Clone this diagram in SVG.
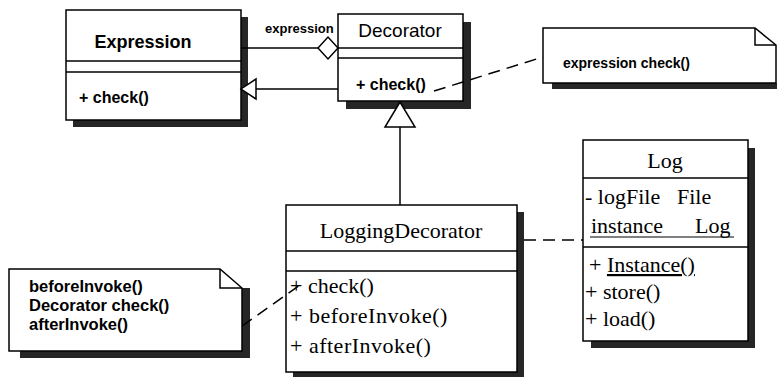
<svg xmlns="http://www.w3.org/2000/svg" width="777" height="377" viewBox="0 0 777 377">
<style>
.box{fill:#fff;stroke:#000;stroke-width:1.5}
.sh{fill:#262626}
.ln{stroke:#000;stroke-width:1.5;fill:none}
.dash{stroke:#000;stroke-width:1.5;fill:none;stroke-dasharray:12 7}
.sans{font-family:"Liberation Sans",Arial,sans-serif;fill:#000}
.serif{font-family:"Liberation Serif","Times New Roman",serif;fill:#000;font-size:22px}
.b{font-weight:bold}
</style>
<rect width="777" height="377" fill="#fff"/>

<g id="expression">
<rect class="sh" x="241" y="17" width="7" height="110"/>
<rect class="sh" x="73" y="120" width="175" height="7"/>
<rect class="box" x="66" y="10" width="175" height="110"/>
<line class="ln" x1="66" y1="61" x2="241" y2="61"/>
<line class="ln" x1="66" y1="72" x2="241" y2="72"/>
<text class="sans b" x="143" y="48" font-size="18" text-anchor="middle">Expression</text>
<text class="sans b" x="79" y="103" font-size="16">+ check()</text>
</g>

<g id="decorator">
<rect class="sh" x="463" y="22" width="8" height="87"/>
<rect class="sh" x="346" y="101" width="125" height="8"/>
<rect class="box" x="338" y="14" width="125" height="87"/>
<line class="ln" x1="338" y1="48" x2="463" y2="48"/>
<line class="ln" x1="338" y1="58" x2="463" y2="58"/>
<text class="sans" x="400" y="37" font-size="19" text-anchor="middle">Decorator</text>
<text class="sans b" x="356" y="90" font-size="16">+ check()</text>
</g>

<g id="note-expression">
<rect class="sh" x="552" y="83" width="225" height="6"/>
<path class="box" d="M543,28 H755 L776,45 V83 H543 Z"/>
<path class="ln" d="M755,28 V45 H776"/>
<text class="sans b" x="563" y="68" font-size="14">expression check()</text>
</g>

<g id="log">
<rect class="sh" x="748" y="148" width="7" height="200"/>
<rect class="sh" x="591" y="341" width="164" height="7"/>
<rect class="box" x="583" y="140" width="165" height="201"/>
<line class="ln" x1="583" y1="178" x2="748" y2="178"/>
<line class="ln" x1="583" y1="247" x2="748" y2="247"/>
<text class="serif" x="665" y="168" text-anchor="middle">Log</text>
<text class="serif" x="585" y="204">- logFile<tspan x="677">File</tspan></text>
<text class="serif" x="591" y="233">instance<tspan x="695">Log</tspan></text>
<line x1="590" y1="237" x2="734" y2="237" stroke="#000" stroke-width="1.2"/>
<text class="serif" x="589" y="272">+ <tspan text-decoration="underline">Instance()</tspan></text>
<text class="serif" x="585" y="299">+ store()</text>
<text class="serif" x="585" y="326">+ load()</text>
</g>

<g id="logging-decorator">
<rect class="sh" x="517" y="212" width="7" height="165"/>
<rect class="sh" x="293" y="372" width="231" height="5"/>
<rect class="box" x="286" y="205" width="231" height="167"/>
<line class="ln" x1="286" y1="251" x2="517" y2="251"/>
<line class="ln" x1="286" y1="271" x2="517" y2="271"/>
<text class="serif" x="401" y="238" text-anchor="middle">LoggingDecorator</text>
<text class="serif" x="290" y="293">+ check()</text>
<text class="serif" x="290" y="323" letter-spacing="0.5">+ beforeInvoke()</text>
<text class="serif" x="290" y="353" letter-spacing="0.5">+ afterInvoke()</text>
</g>

<g id="note-logging">
<rect class="sh" x="242" y="288" width="8" height="70"/>
<rect class="sh" x="20" y="351" width="230" height="7"/>
<path class="box" d="M9,269 H220 L242,288 V351 H9 Z"/>
<path class="ln" d="M220,269 V288 H242"/>
<text class="sans b" x="29" y="292" font-size="16.5">beforeInvoke()</text>
<text class="sans b" x="29" y="311" font-size="16.5">Decorator check()</text>
<text class="sans b" x="29" y="330" font-size="16.5">afterInvoke()</text>
</g>

<g id="connectors">
<line class="ln" x1="241" y1="48" x2="318" y2="48"/>
<polygon points="318,48 328,37 338,48 328,59" fill="#fff" stroke="#000" stroke-width="1.5"/>
<text class="sans b" x="265" y="33" font-size="13">expression</text>
<line class="ln" x1="256" y1="89" x2="338" y2="89"/>
<polygon points="241,89 256,79 256,99" fill="#fff" stroke="#000" stroke-width="1.5"/>
<line class="ln" x1="400" y1="127" x2="400" y2="205"/>
<polygon points="400,102 385,127 415,127" fill="#fff" stroke="#000" stroke-width="1.5"/>
<line class="dash" x1="524" y1="240" x2="583" y2="240"/>
<line class="dash" x1="434" y1="91" x2="543" y2="57"/>
<line class="dash" x1="242" y1="326" x2="300" y2="285"/>
</g>
</svg>
